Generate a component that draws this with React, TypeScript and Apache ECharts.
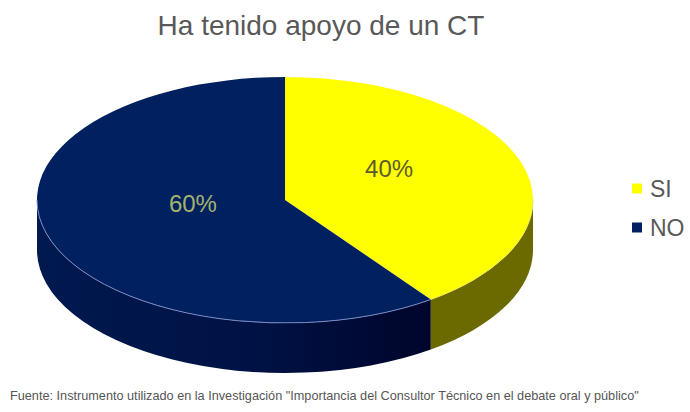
import React, { useEffect, useRef } from "react";
import * as echarts from "echarts";

const categories = ["SI", "NO"];
const shares = [40, 60];
const shareLabels = ["40%", "60%"];
const titleText = "Ha tenido apoyo de un CT";
const sourceText =
  "Fuente: Instrumento utilizado en la Investigación \"Importancia del Consultor Técnico en el debate oral y público\"";

const FONT = '"Liberation Sans", Arial, sans-serif';

// Tilted disc geometry
const CX = 285;
const CY = 200;
const RX = 248;
const RY = 123;
const DEPTH = 50;

const topColors = ["#ffff00", "#002060"];
const labelColors = ["#5c5c2a", "#a3b36c"];
const labelOffsets = [
  [5, -16],
  [7, -12],
];

// Angle is measured clockwise from the top of the disc
const px = (deg: number) => CX + RX * Math.sin((deg * Math.PI) / 180);
const py = (deg: number, drop = 0) => CY - RY * Math.cos((deg * Math.PI) / 180) + drop;

const sliceRange = (index: number) => {
  const total = shares.reduce((a, b) => a + b, 0);
  const before = shares.slice(0, index).reduce((a, b) => a + b, 0);
  return [(before / total) * 360, ((before + shares[index]) / total) * 360];
};

const topPath = (a0: number, a1: number) => {
  const large = a1 - a0 > 180 ? 1 : 0;
  return `M${CX} ${CY}L${px(a0)} ${py(a0)}A${RX} ${RY} 0 ${large} 1 ${px(a1)} ${py(a1)}Z`;
};

const wallPath = (a0: number, a1: number) =>
  `M${px(a0)} ${py(a0)}A${RX} ${RY} 0 0 1 ${px(a1)} ${py(a1)}` +
  `L${px(a1)} ${py(a1, DEPTH)}A${RX} ${RY} 0 0 0 ${px(a0)} ${py(a0, DEPTH)}Z`;

const rimPath = (a0: number, a1: number) =>
  `M${px(a0)} ${py(a0)}A${RX} ${RY} 0 0 1 ${px(a1)} ${py(a1)}`;

const pathEl = (pathData: string, style: Record<string, unknown>) => ({
  type: "path",
  shape: { pathData },
  style,
});

const wallFill = (index: number) =>
  index === 0
    ? "#6b6a00"
    : new echarts.graphic.LinearGradient(0, 0, 1, 0, [
        { offset: 0, color: "#00194f" },
        { offset: 0.55, color: "#001245" },
        { offset: 1, color: "#00052b" },
      ]);

const renderSlice = (index: number) => () => {
  const [a0, a1] = sliceRange(index);
  const mid = (a0 + a1) / 2;
  const wallStart = Math.max(a0, 90);
  const wallEnd = Math.min(a1, 270);
  const labelX = CX + 0.42 * RX * Math.sin((mid * Math.PI) / 180) + labelOffsets[index][0];
  const labelY = CY - 0.42 * RY * Math.cos((mid * Math.PI) / 180) + labelOffsets[index][1];
  return {
    type: "group",
    children: [
      pathEl(wallPath(wallStart, wallEnd), { fill: wallFill(index) }),
      pathEl(topPath(a0, a1), { fill: topColors[index] }),
      pathEl(rimPath(wallStart, wallEnd), {
        fill: "none",
        stroke: index === 0 ? "#e8e85a" : "#7d8ac4",
        lineWidth: 1,
      }),
      {
        type: "text",
        x: labelX,
        y: labelY,
        style: {
          text: shareLabels[index],
          fill: labelColors[index],
          font: `24px ${FONT}`,
          align: "center",
          verticalAlign: "middle",
        },
      },
    ],
  };
};

export default function App() {
  const ref = useRef<HTMLDivElement>(null);

  useEffect(() => {
    const chart = echarts.init(ref.current!, undefined, { renderer: "svg" });
    chart.setOption({
      animation: false,
      backgroundColor: "#ffffff",
      title: [
        {
          text: titleText,
          left: 316,
          top: 6,
          textAlign: "center",
          textStyle: { fontFamily: FONT, fontSize: 28, fontWeight: "normal", color: "#595959" },
        },
        {
          text: sourceText,
          left: 5,
          top: 384,
          textStyle: { fontFamily: FONT, fontSize: 12.7, fontWeight: "normal", color: "#555555" },
        },
      ],
      legend: {
        orient: "vertical",
        left: 627,
        top: 172,
        itemWidth: 10,
        itemHeight: 10,
        itemGap: 16,
        icon: "rect",
        textStyle: { fontFamily: FONT, fontSize: 23, color: "#595959", padding: [0, 0, 0, 3] },
        data: categories,
      },
      series: categories.map((name, i) => ({
        type: "custom",
        name,
        coordinateSystem: "none",
        color: topColors[i],
        data: [shares[i]],
        renderItem: renderSlice(i),
      })),
    });
    return () => chart.dispose();
  }, []);

  return (
    <div
      ref={ref}
      style={{ position: "absolute", left: 0, top: 0, width: 690, height: 412 }}
    />
  );
}
